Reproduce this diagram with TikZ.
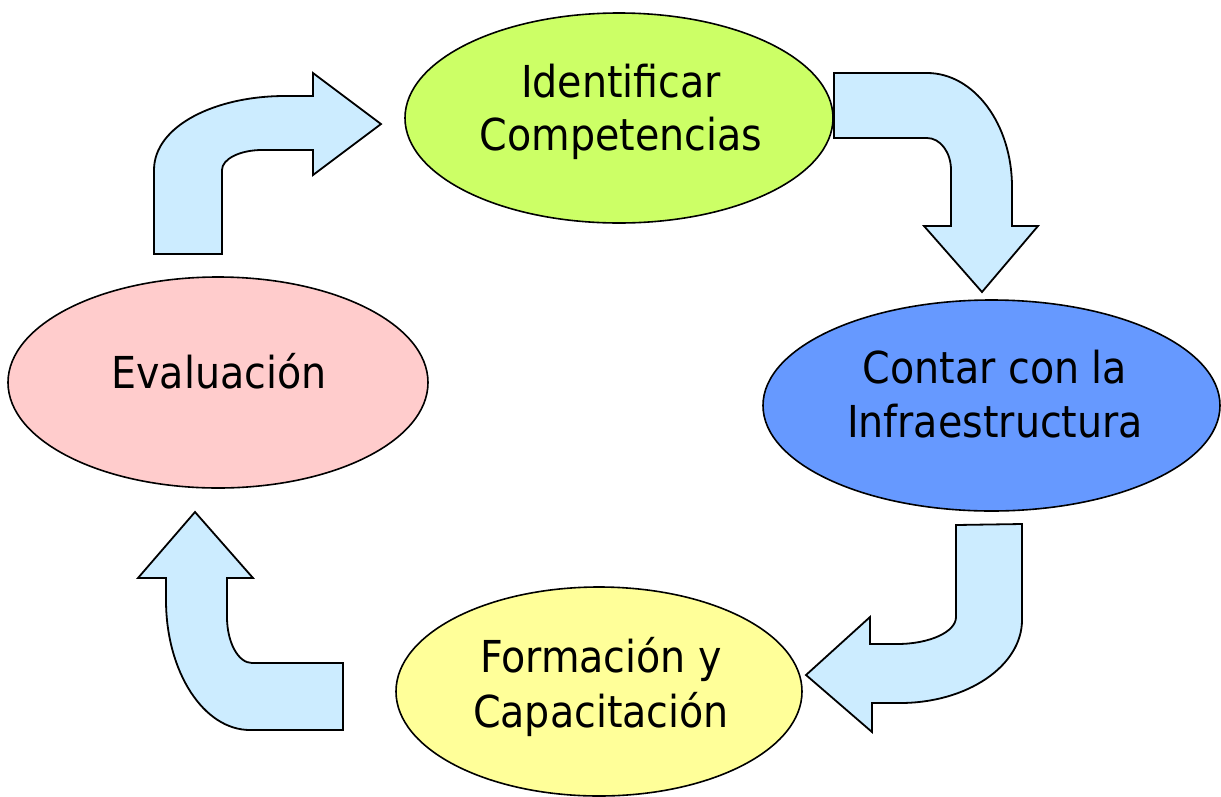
\documentclass[tikz,border=0pt]{standalone}
\usepackage{fontspec}
\setmainfont{DejaVu Sans Condensed}
\definecolor{cgreen}{HTML}{CCFF66}
\definecolor{cblue}{HTML}{6699FF}
\definecolor{cyellow}{HTML}{FFFF99}
\definecolor{cpink}{HTML}{FFCCCC}
\definecolor{carrow}{HTML}{CCECFF}
\tikzset{
  ell/.style={ellipse, draw=black, line width=1.6pt, inner sep=0pt},
  txt/.style={anchor=base, inner sep=0pt, font=\fontsize{44}{54}\selectfont},
  blockarrow/.style={draw=black, fill=carrow, line width=1.8pt, line join=miter},
}
\usetikzlibrary{shapes.geometric}
\begin{document}
\begin{tikzpicture}[x=1pt,y=-1pt]
\useasboundingbox (0,0) rectangle (1221,796);
% ellipses
\node[ell, fill=cgreen, minimum width=428pt, minimum height=210pt] (ident) at (619,118) {};
\node[ell, fill=cblue, minimum width=457pt, minimum height=211pt] (infra) at (991.5,405.5) {};
\node[ell, fill=cyellow, minimum width=406pt, minimum height=209pt] (form) at (599,691.5) {};
\node[ell, fill=cpink, minimum width=420pt, minimum height=211pt] (eval) at (218,382.5) {};
% texts
\node[txt] (identA) at (621,97) {Identificar};
\node[txt] (identB) at (621,150) {Competencias};
\node[txt] (infraA) at (995,383) {Contar con la};
\node[txt] (infraB) at (995,437) {Infraestructura};
\node[txt] (formA) at (601,672) {Formación y};
\node[txt] (formB) at (601,727) {Capacitación};
\node[txt] (evalA) at (219,388) {Evaluación};
% arrow 1: evaluacion -> identificar
\draw[blockarrow] (154,254) -- (154,170)
  .. controls (154,126) and (215,96) .. (285,96)
  -- (313,96) -- (313,73) -- (381,124) -- (313,175) -- (313,150) -- (262,150)
  .. controls (240,150) and (222,159) .. (222,170)
  -- (222,254) -- cycle;
% arrow 2: identificar -> infraestructura
\draw[blockarrow] (834,73) -- (927,73)
  .. controls (974,73) and (1012,124) .. (1012,187)
  -- (1012,226) -- (1038,226) -- (982,292) -- (924,226) -- (951,226) -- (951,170)
  .. controls (951,152.3) and (940.3,138) .. (927,138)
  -- (834,138) -- cycle;
% arrow 3: infraestructura -> formacion
\draw[blockarrow] (956,525) -- (1022,524) -- (1022,620)
  .. controls (1022,665.8) and (967.4,703) .. (900,703)
  -- (872,703) -- (872,732) -- (806,675) -- (870,617) -- (870,644) -- (897,644)
  .. controls (929.6,644) and (956,631.9) .. (956,617)
  -- cycle;
% arrow 4: formacion -> evaluacion
\draw[blockarrow] (343,663) -- (343,730) -- (250,730)
  .. controls (203.6,730) and (166,671.8) .. (166,600)
  -- (166,578) -- (138,578) -- (195,512) -- (253,578) -- (227,578) -- (227,617)
  .. controls (227,642.4) and (238.2,663) .. (252,663)
  -- cycle;
\end{tikzpicture}
\end{document}
